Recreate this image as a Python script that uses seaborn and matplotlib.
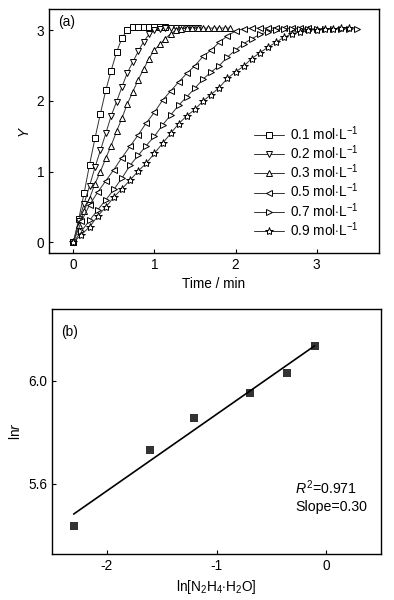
import numpy as np
import pandas as pd
import seaborn as sns
import matplotlib
matplotlib.use("Agg")
import matplotlib.pyplot as plt

# ---- panel (a): Y vs time for each hydrazine concentration ----
labels = ["0.1", "0.2", "0.3", "0.5", "0.7", "0.9"]
interval_min = [1 / 15, 1 / 15, 1 / 15, 0.1, 0.1, 0.1]  # sampling interval per run

y_01 = [0, 0.33, 0.70, 1.10, 1.47, 1.82, 2.15, 2.43, 2.69, 2.89, 3.01, 3.05,
        3.05, 3.05, 3.05, 3.05, 3.05, 3.05]
y_02 = [0, 0.30, 0.55, 0.80, 1.06, 1.30, 1.54, 1.79, 1.99, 2.20, 2.40, 2.55,
        2.70, 2.84, 2.94, 3.00, 3.02, 3.03, 3.03, 3.03, 3.03, 3.03, 3.03, 3.03]
y_03 = [0, 0.25, 0.45, 0.62, 0.83, 1.00, 1.19, 1.37, 1.57, 1.76, 1.96, 2.13,
        2.30, 2.45, 2.60, 2.72, 2.80, 2.88, 2.95, 3.00, 3.02, 3.03, 3.03, 3.03,
        3.03, 3.03, 3.03, 3.03, 3.03, 3.03]
y_05 = [0, 0.30, 0.53, 0.71, 0.87, 1.03, 1.20, 1.36, 1.52, 1.69, 1.84, 2.01,
        2.14, 2.27, 2.39, 2.50, 2.63, 2.72, 2.83, 2.92, 2.99, 3.02, 3.03, 3.03,
        3.03, 3.03, 3.03, 3.03, 3.03, 3.03]
y_07 = [0, 0.16, 0.31, 0.46, 0.60, 0.75, 0.91, 1.09, 1.23, 1.37, 1.50, 1.66,
        1.80, 1.94, 2.06, 2.18, 2.31, 2.41, 2.50, 2.62, 2.72, 2.81, 2.88, 2.94,
        2.98, 3.01, 3.02, 3.02, 3.02, 3.02, 3.02, 3.02, 3.02, 3.02, 3.02, 3.02]
y_09 = [0, 0.11, 0.22, 0.37, 0.50, 0.64, 0.76, 0.88, 1.01, 1.12, 1.26, 1.40,
        1.54, 1.68, 1.79, 1.88, 2.00, 2.09, 2.19, 2.32, 2.41, 2.49, 2.60, 2.68,
        2.76, 2.83, 2.90, 2.95, 2.98, 3.00, 3.01, 3.02, 3.02, 3.03, 3.03]
series = [y_01, y_02, y_03, y_05, y_07, y_09]
markers = ["s", "v", "^", "<", ">", "*"]

# ---- panel (b): ln r vs ln[N2H4.H2O] ----
conc = [0.1, 0.2, 0.3, 0.5, 0.7, 0.9]
ln_r = [5.437, 5.729, 5.855, 5.950, 6.028, 6.135]

sns.set_style("ticks")
plt.rcParams["font.family"] = ["Liberation Sans", "DejaVu Sans"]
plt.rcParams["mathtext.fontset"] = "custom"
plt.rcParams["mathtext.rm"] = "Liberation Sans"
plt.rcParams["mathtext.it"] = "Liberation Sans:italic"
plt.rcParams["axes.unicode_minus"] = False
plt.rcParams["xtick.direction"] = "in"
plt.rcParams["ytick.direction"] = "in"
plt.rcParams["xtick.major.size"] = 3
plt.rcParams["ytick.major.size"] = 3
for key in ("text.color", "axes.labelcolor", "xtick.color", "ytick.color"):
    plt.rcParams[key] = "black"

fs = 9.8
fig = plt.figure(figsize=(3.94, 6.0), dpi=100)
ax1 = fig.add_axes([0.1244, 0.5783, 0.8376, 0.4067])
ax2 = fig.add_axes([0.132, 0.0767, 0.835, 0.4083])

for lab, step, vals, mk in zip(labels, interval_min, series, markers):
    t = np.arange(len(vals)) * step
    df = pd.DataFrame({"t": t, "y": vals})
    sns.lineplot(data=df, x="t", y="y", ax=ax1, color="#333333", lw=0.7,
                 marker=mk, markersize=5 if mk != "*" else 6,
                 markerfacecolor="white", markeredgecolor="black",
                 markeredgewidth=0.7, label=lab + r" mol$\cdot$L$^{-1}$")

ax1.set_xlim(-0.3, 3.77)
ax1.set_ylim(-0.15, 3.3)
ax1.set_xticks([0, 1, 2, 3])
ax1.set_yticks([0, 1, 2, 3])
ax1.set_xlabel("Time / min", fontsize=fs)
ax1.set_ylabel("Y", fontsize=fs, style="italic")
ax1.text(0.027, 0.947, "(a)", transform=ax1.transAxes, fontsize=fs, va="center")
ax1.legend(loc="lower right", bbox_to_anchor=(0.955, 0.035), frameon=False,
           fontsize=fs, handlelength=2.2, handletextpad=0.45, labelspacing=0.05,
           borderaxespad=0)

df2 = pd.DataFrame({"x": np.log(conc), "y": ln_r})
sns.regplot(data=df2, x="x", y="y", ax=ax2, ci=None, truncate=True, marker="s",
            color="black", scatter_kws={"s": 28, "linewidths": 0},
            line_kws={"lw": 1.2})
ax2.set_xlim(-2.5, 0.5)
ax2.set_ylim(5.327, 6.278)
ax2.set_xticks([-2, -1, 0])
ax2.set_yticks([5.6, 6.0])
ax2.set_yticklabels(["5.6", "6.0"])
ax2.set_xlabel(r"ln[N$_2$H$_4$$\cdot$H$_2$O]", fontsize=fs)
ax2.set_ylabel(r"ln$\it{r}$", fontsize=fs)
ax2.text(0.027, 0.907, "(b)", transform=ax2.transAxes, fontsize=fs, va="center")
ax2.text(0.739, 0.31, "$R^2$=0.971\nSlope=0.30", transform=ax2.transAxes,
         fontsize=10.2, va="top", linespacing=1.35)

for ax in (ax1, ax2):
    ax.tick_params(labelsize=fs, width=0.8, right=False, top=False)
    for sp in ax.spines.values():
        sp.set_visible(True)
        sp.set_linewidth(1.0)
        sp.set_color("black")

fig.savefig("out.png", dpi=100)
